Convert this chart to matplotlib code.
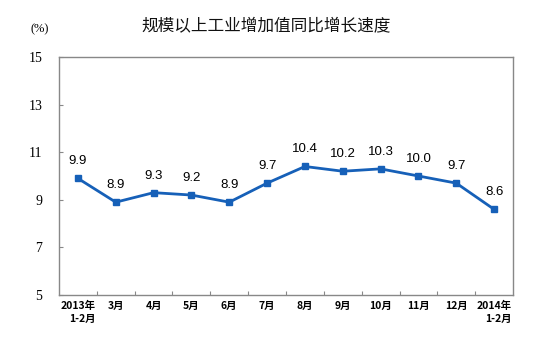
import matplotlib.pyplot as plt

plt.rcParams['font.family'] = ['Noto Sans CJK SC', 'DejaVu Sans']

months = ['2013年\n1-2月', '3月', '4月', '5月', '6月', '7月', '8月', '9月',
          '10月', '11月', '12月', '2014年\n1-2月']
growth = [9.9, 8.9, 9.3, 9.2, 8.9, 9.7, 10.4, 10.2, 10.3, 10.0, 9.7, 8.6]

fig = plt.figure(figsize=(5.54, 3.39), dpi=100)
ax = fig.add_axes([59 / 554, 44 / 339, 454 / 554, 238 / 339])

x = list(range(len(growth)))
ax.plot(x, growth, color='#1660b8', lw=2, marker='s', ms=5,
        markerfacecolor='#1660b8', markeredgecolor='#1660b8')
for xi, v in zip(x, growth):
    ax.annotate(f'{v:.1f}', (xi, v), xytext=(0, 8), textcoords='offset points',
                ha='center', va='bottom', fontsize=9.5, family='Liberation Sans')

ax.set_xlim(-0.5, len(growth) - 0.5)
ax.set_ylim(5, 15)
ax.set_yticks([5, 7, 9, 11, 13, 15])
ax.set_yticklabels(['5', '7', '9', '11', '13', '15'], family='Liberation Serif', fontsize=10)
# category separators as major ticks, month names on minor ticks
ax.set_xticks([i + 0.5 for i in range(len(growth) - 1)])
ax.set_xticklabels([])
ax.set_xticks(x, minor=True)
ax.set_xticklabels(months, minor=True, fontsize=7.5, linespacing=1.4, va='top',
                   multialignment='right', fontweight='bold')
ax.tick_params(axis='x', which='minor', length=0, pad=4)
ax.tick_params(axis='x', which='major', direction='in', length=3, color='#888888')
ax.tick_params(axis='y', direction='in', length=3, color='#888888', pad=12)
for s in ax.spines.values():
    s.set_color('#888888')
    s.set_linewidth(1)

fig.text(266 / 554, 1 - 27 / 339, '规模以上工业增加值同比增长速度', ha='center', va='center',
         fontsize=12, color='#111111')
fig.text(40 / 554, 1 - 29 / 339, '(%)', ha='center', va='center', fontsize=9,
         family='Liberation Serif')

fig.savefig('out.png', dpi=100)
